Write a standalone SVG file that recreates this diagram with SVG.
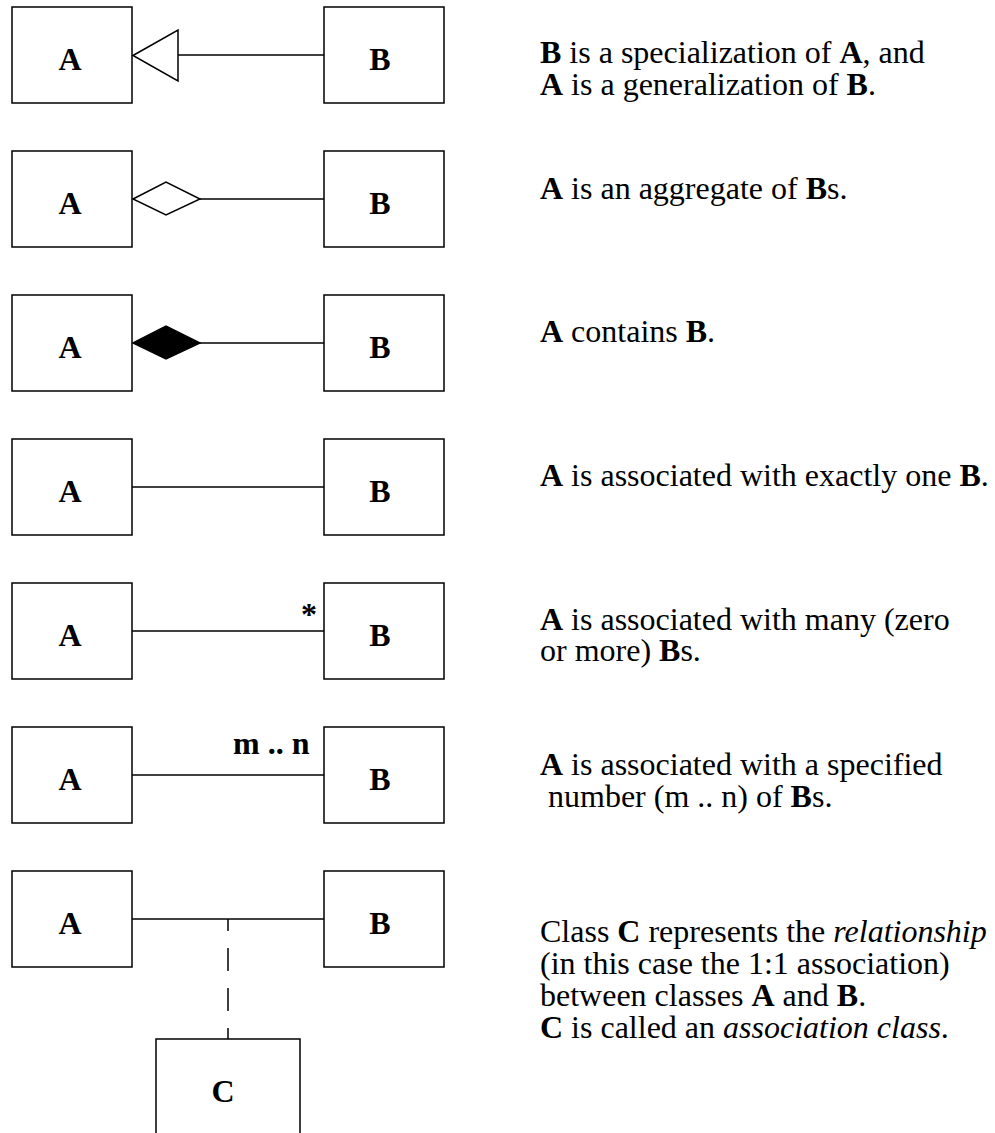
<svg xmlns="http://www.w3.org/2000/svg" width="995" height="1133" viewBox="0 0 995 1133">
  <style>
    .box { fill: #ffffff; stroke: #000000; stroke-width: 1.5; }
    .edge { fill: none; stroke: #000000; stroke-width: 1.5; }
    .label { font-family: "Liberation Serif", "Times New Roman", serif; font-size: 32px; font-weight: bold; fill: #000000; text-anchor: middle; }
    .mult { font-family: "Liberation Serif", "Times New Roman", serif; font-size: 32px; font-weight: bold; fill: #000000; }
    .note { font-family: "Liberation Serif", "Times New Roman", serif; font-size: 32px; fill: #000000; }
    .b { font-weight: bold; }
    .i { font-style: italic; }
  </style>
  <rect width="995" height="1133" fill="#ffffff"/>

  <!-- class boxes -->
  <g id="gen-A"><rect class="box" x="12" y="7" width="120" height="96"/><text class="label" x="70" y="70">A</text></g>
  <g id="gen-B"><rect class="box" x="324" y="7" width="120" height="96"/><text class="label" x="380" y="70">B</text></g>

  <g id="agg-A"><rect class="box" x="12" y="151" width="120" height="96"/><text class="label" x="70" y="214">A</text></g>
  <g id="agg-B"><rect class="box" x="324" y="151" width="120" height="96"/><text class="label" x="380" y="214">B</text></g>

  <g id="comp-A"><rect class="box" x="12" y="295" width="120" height="96"/><text class="label" x="70" y="358">A</text></g>
  <g id="comp-B"><rect class="box" x="324" y="295" width="120" height="96"/><text class="label" x="380" y="358">B</text></g>

  <g id="one-A"><rect class="box" x="12" y="439" width="120" height="96"/><text class="label" x="70" y="502">A</text></g>
  <g id="one-B"><rect class="box" x="324" y="439" width="120" height="96"/><text class="label" x="380" y="502">B</text></g>

  <g id="many-A"><rect class="box" x="12" y="583" width="120" height="96"/><text class="label" x="70" y="646">A</text></g>
  <g id="many-B"><rect class="box" x="324" y="583" width="120" height="96"/><text class="label" x="380" y="646">B</text></g>

  <g id="range-A"><rect class="box" x="12" y="727" width="120" height="96"/><text class="label" x="70" y="790">A</text></g>
  <g id="range-B"><rect class="box" x="324" y="727" width="120" height="96"/><text class="label" x="380" y="790">B</text></g>

  <g id="assoc-A"><rect class="box" x="12" y="871" width="120" height="96"/><text class="label" x="70" y="934">A</text></g>
  <g id="assoc-B"><rect class="box" x="324" y="871" width="120" height="96"/><text class="label" x="380" y="934">B</text></g>
  <g id="assoc-C"><rect class="box" x="156" y="1039" width="144" height="100"/><text class="label" x="223" y="1102">C</text></g>

  <!-- connectors -->
  <g id="connectors">
    <!-- generalization: hollow triangle at A -->
    <line class="edge" x1="178" y1="55" x2="324" y2="55"/>
    <polygon class="edge" points="133,55.5 178,30 178,81"/>
    <!-- aggregation: hollow diamond at A -->
    <line class="edge" x1="200" y1="199" x2="324" y2="199"/>
    <polygon class="edge" points="133,199 166,182 200,199 166,215"/>
    <!-- composition: filled diamond at A -->
    <line class="edge" x1="200" y1="343" x2="324" y2="343"/>
    <polygon class="edge" style="fill:#000000" points="133,343 166,326 200,343 166,359"/>
    <!-- plain associations -->
    <line class="edge" x1="132" y1="487" x2="324" y2="487"/>
    <line class="edge" x1="132" y1="631" x2="324" y2="631"/>
    <text class="mult" x="309" y="625" text-anchor="middle">*</text>
    <line class="edge" x1="132" y1="775" x2="324" y2="775"/>
    <text class="mult" x="233" y="754">m .. n</text>
    <!-- association with association class -->
    <line class="edge" x1="132" y1="919" x2="324" y2="919"/>
    <line class="edge" x1="228" y1="919" x2="228" y2="1039" stroke-dasharray="23 17" stroke-dashoffset="11"/>
  </g>

  <!-- explanations -->
  <g id="notes">
    <text class="note" x="540" y="63"><tspan class="b">B</tspan> is a specialization of <tspan class="b">A</tspan>, and</text>
    <text class="note" x="540" y="95"><tspan class="b">A</tspan> is a generalization of <tspan class="b">B</tspan>.</text>

    <text class="note" x="540" y="199"><tspan class="b">A</tspan> is an aggregate of <tspan class="b">B</tspan>s.</text>

    <text class="note" x="540" y="342"><tspan class="b">A</tspan> contains <tspan class="b">B</tspan>.</text>

    <text class="note" x="540" y="486"><tspan class="b">A</tspan> is associated with exactly one <tspan class="b">B</tspan>.</text>

    <text class="note" x="540" y="630"><tspan class="b">A</tspan> is associated with many (zero</text>
    <text class="note" x="540" y="661">or more) <tspan class="b">B</tspan>s.</text>

    <text class="note" x="540" y="775"><tspan class="b">A</tspan> is associated with a specified</text>
    <text class="note" x="548" y="807">number (m .. n) of <tspan class="b">B</tspan>s.</text>

    <text class="note" x="540" y="942">Class <tspan class="b">C</tspan> represents the <tspan class="i">relationship</tspan></text>
    <text class="note" x="540" y="974">(in this case the 1:1 association)</text>
    <text class="note" x="540" y="1006">between classes <tspan class="b">A</tspan> and <tspan class="b">B</tspan>.</text>
    <text class="note" x="540" y="1038"><tspan class="b">C</tspan> is called an <tspan class="i">association class</tspan>.</text>
  </g>
</svg>
